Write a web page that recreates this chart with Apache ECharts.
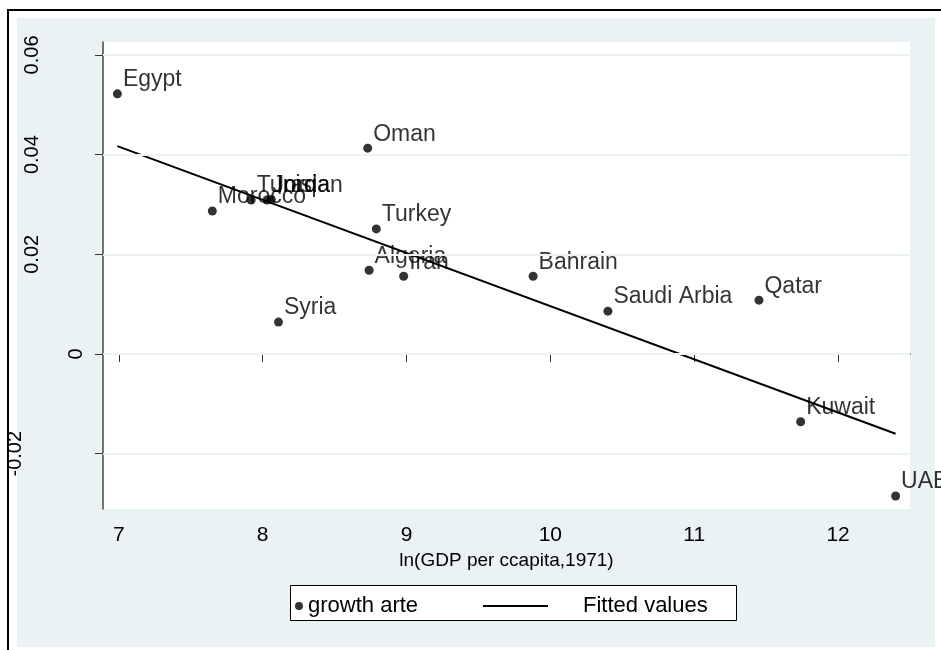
<!DOCTYPE html>
<html>
<head>
<meta charset="utf-8">
<script src="https://cdn.jsdelivr.net/npm/echarts@6/dist/echarts.min.js"></script>
<style>
  html, body { margin: 0; padding: 0; background: #fff; }
  #chart { width: 941px; height: 650px; }
</style>
</head>
<body>
<div id="chart"></div>
<script>
// Growth rate against log GDP per capita in 1971, with a linear fit.
const countries = ['Egypt', 'Morocco', 'Tunisia', 'Jordan', 'Iraq', 'Oman', 'Turkey', 'Algeria',
                   'Iran', 'Syria', 'Bahrain', 'Saudi Arbia', 'Qatar', 'Kuwait', 'UAE'];
const lnGdp   = [6.99, 7.65, 7.92, 8.03, 8.06, 8.73, 8.79, 8.74, 8.98, 8.11, 9.88, 10.40, 11.45, 11.74, 12.40];
const growth  = [0.0522, 0.0287, 0.0309, 0.0309, 0.0310, 0.0413, 0.0251, 0.0168, 0.0156, 0.0064,
                 0.0156, 0.0086, 0.0108, -0.0136, -0.0285];

// Fitted values at the two ends of the sample
const fitX = [6.99, 12.40];
const fitY = [0.0417, -0.0160];

const xTicks = [7, 8, 9, 10, 11, 12];
const yTicks = [-0.02, 0, 0.02, 0.04, 0.06];
const yTickLabels = ['-0.02', '0', '0.02', '0.04', '0.06'];
const seriesNames = ['growth arte', 'Fitted values'];
const xTitle = 'ln(GDP per ccapita,1971)';

// Styling
const FONT = '"Liberation Sans", Arial, Helvetica, sans-serif';
const BG = '#EAF2F3';
const yLabelCenterX = { '-0.02': 15, '0': 76, '0.02': 32, '0.04': 32, '0.06': 32 };

const chart = echarts.init(document.getElementById('chart'), null, { renderer: 'canvas' });

const pointData = countries.map((c, i) => ({ name: c, value: [lnGdp[i], growth[i]] }));
const fitData = fitX.map((x, i) => [x, fitY[i]]);

const frame = [
  { type: 'rect', z: -10, shape: { x: 8, y: 10, width: 1000, height: 1000 },
    style: { fill: '#fff', stroke: '#000', lineWidth: 2 } },
  { type: 'rect', z: -9, shape: { x: 17, y: 18, width: 918, height: 629 },
    style: { fill: BG } },
  { type: 'rect', z: 1, shape: { x: 290.5, y: 585.5, width: 446, height: 35 },
    style: { fill: '#fff', stroke: '#000', lineWidth: 1 } }
];

chart.setOption({
  animation: false,
  textStyle: { fontFamily: FONT },
  grid: { left: 103, top: 42, right: 31, bottom: 141, show: true,
          backgroundColor: '#fff', borderWidth: 0 },
  xAxis: {
    type: 'value', min: 6.89, max: 12.5,
    name: xTitle, nameLocation: 'middle', nameGap: 37,
    nameTextStyle: { fontSize: 19, color: '#000', fontFamily: FONT },
    axisLine: { show: true, lineStyle: { color: '#000', width: 1.5 } },
    axisTick: { show: true, customValues: xTicks, length: 8, lineStyle: { color: '#333', width: 1 } },
    axisLabel: { customValues: xTicks, fontSize: 21, color: '#000', margin: 16, fontFamily: FONT },
    splitLine: { show: false }
  },
  yAxis: {
    type: 'value', min: -0.0311, max: 0.0626,
    axisLine: { show: true, lineStyle: { color: '#444', width: 1.5 } },
    axisTick: { show: true, customValues: yTicks, length: 8, lineStyle: { color: '#333', width: 1 } },
    axisLabel: { show: false },
    splitLine: { show: false }
  },
  legend: [
    { data: [seriesNames[0]], left: 290, top: 590, icon: 'circle', itemWidth: 8, itemHeight: 8,
      textStyle: { fontSize: 22, color: '#000', fontFamily: FONT }, selectedMode: false },
    { data: [seriesNames[1]], left: 478, top: 590, icon: 'rect', itemWidth: 65, itemHeight: 2,
      textStyle: { fontSize: 22, color: '#000', fontFamily: FONT, padding: [0, 0, 0, 30] },
      selectedMode: false }
  ],
  series: [
    {
      name: seriesNames[0], type: 'scatter', data: pointData,
      symbol: 'circle', symbolSize: 9, itemStyle: { color: '#000' }, z: 2,
      label: { show: true, formatter: '{b}', position: [10, 2], align: 'left', verticalAlign: 'bottom',
               fontSize: 23, color: '#000', fontFamily: FONT },
      markLine: {
        silent: true, symbol: ['none', 'none'], label: { show: false }, animation: false,
        lineStyle: { color: BG, width: 2, type: 'solid' },
        data: yTicks.map(v => ({ yAxis: v }))
      }
    },
    {
      name: seriesNames[1], type: 'line', data: fitData, showSymbol: false, symbol: 'none', z: 3,
      lineStyle: { color: '#000', width: 2 }, itemStyle: { color: '#000' }
    }
  ],
  graphic: frame
});

// Vertical y tick labels, placed from the axis scale
const yLabels = yTicks.map((v, i) => {
  const py = chart.convertToPixel({ yAxisIndex: 0 }, v);
  const t = yTickLabels[i];
  return {
    type: 'text', z: 10, x: yLabelCenterX[t], y: py, rotation: Math.PI / 2,
    style: { text: t, fontSize: 20, fontFamily: FONT, fill: '#000',
             align: 'center', verticalAlign: 'middle', textAlign: 'center', textVerticalAlign: 'middle' }
  };
});
chart.setOption({ graphic: frame.concat(yLabels) });
</script>
</body>
</html>
